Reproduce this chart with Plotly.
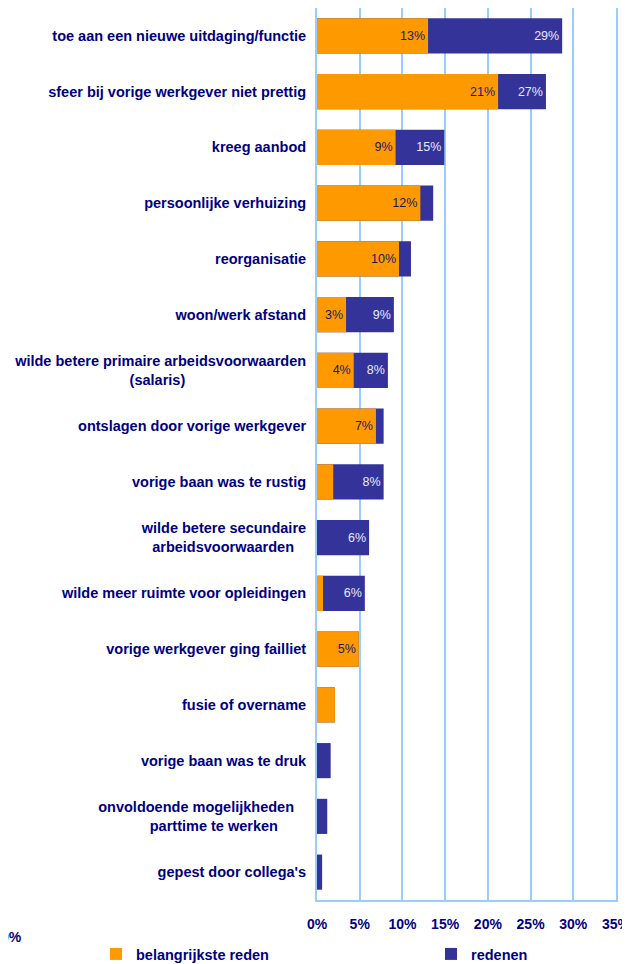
import plotly.graph_objects as go

NAVY_TXT = "#000080"
ORANGE = "#FF9900"
NAVY = "#333399"
GRID = "#99ccff"

NB = "\u00a0"
categories = [
    "toe aan een nieuwe uitdaging/functie",
    "sfeer bij vorige werkgever niet prettig",
    "kreeg aanbod",
    "persoonlijke verhuizing",
    "reorganisatie",
    "woon/werk afstand",
    "wilde betere primaire arbeidsvoorwaarden<br>(salaris)" + NB * 30,
    "ontslagen door vorige werkgever",
    "vorige baan was te rustig",
    "wilde betere secundaire<br>arbeidsvoorwaarden" + NB * 3,
    "wilde meer ruimte voor opleidingen",
    "vorige werkgever ging failliet",
    "fusie of overname",
    "vorige baan was te druk",
    "onvoldoende mogelijkheden" + NB * 3 + "<br>parttime te werken" + NB * 7,
    "gepest door collega's",
]

belangrijkste = [13.0, 21.2, 9.2, 12.1, 9.6, 3.4, 4.3, 6.9, 1.9, 0.0, 0.7, 4.9, 2.1, 0.0, 0.0, 0.0]
redenen = [28.7, 26.8, 14.9, 13.6, 11.0, 9.0, 8.3, 7.8, 7.8, 6.1, 5.6, 4.9, 2.1, 1.6, 1.2, 0.6]

belangrijkste_labels = ["13%", "21%", "9%", "12%", "10%", "3%", "4%", "7%", "", "", "", "5%", "", "", "", ""]
redenen_labels = ["29%", "27%", "15%", "", "", "9%", "8%", "", "8%", "6%", "6%", "", "", "", "", ""]

x_ticks = [0, 5, 10, 15, 20, 25, 30, 35]

ids = list(range(len(categories)))

BOLD = dict(family="Liberation Sans", size=14.5, color=NAVY_TXT, weight="bold")
BOLD_X = dict(family="Liberation Sans", size=14, color=NAVY_TXT, weight="bold")

# page body adds an 8px offset; plot area on screen: x 317..616, y 8..900
PLOT_L, PLOT_R, PLOT_T, PLOT_B = 317, 616, 8, 900
PW, PH = PLOT_R - PLOT_L, PLOT_B - PLOT_T


def px(x):
    return (x - PLOT_L) / PW


def py(y):
    return (PLOT_B - y) / PH


fig = go.Figure()
fig.add_trace(go.Bar(
    y=ids, x=redenen, orientation="h", name="redenen",
    marker=dict(color=NAVY, line=dict(width=0)),
    text=redenen_labels, textposition="inside", insidetextanchor="end",
    textfont=dict(family="Liberation Sans", size=12.5, color="#e8e8ff"),
    constraintext="none", width=0.63, legend="legend2",
))
fig.add_trace(go.Bar(
    y=ids, x=belangrijkste, orientation="h", name="belangrijkste reden",
    marker=dict(color=ORANGE, line=dict(width=0)),
    text=belangrijkste_labels, textposition="inside", insidetextanchor="end",
    textfont=dict(family="Liberation Sans", size=12.5, color="#1a1a66"),
    constraintext="none", width=0.63, legend="legend",
))

fig.update_layout(
    width=622, height=956,
    margin=dict(l=309, r=14, t=0, b=64, autoexpand=False),
    barmode="overlay",
    plot_bgcolor="white", paper_bgcolor="white",
    font=dict(family="Liberation Sans", color=NAVY_TXT),
    showlegend=True,
    legend=dict(
        orientation="h", x=px(96), xanchor="left", y=py(954), yanchor="middle",
        font=BOLD, bgcolor="rgba(0,0,0,0)",
    ),
    legend2=dict(
        orientation="h", x=px(431), xanchor="left", y=py(954), yanchor="middle",
        font=BOLD, bgcolor="rgba(0,0,0,0)",
    ),
    xaxis=dict(
        range=[0, 35], tickvals=x_ticks, ticktext=[f"{v}%" for v in x_ticks],
        showgrid=True, gridcolor=GRID, gridwidth=1.5,
        showline=True, linecolor=GRID, linewidth=2, mirror=True,
        zeroline=False, ticks="", ticklabelstandoff=10,
        ticklabeloverflow="allow",
        tickfont=BOLD_X,
    ),
    yaxis=dict(
        tickvals=ids, ticktext=categories, autorange="reversed",
        showline=True, linecolor=GRID, linewidth=2, mirror=True,
        showgrid=False, ticks="", ticklabelstandoff=6,
        tickfont=BOLD,
    ),
    annotations=[dict(
        text="0%", xref="paper", yref="paper", x=px(24), y=py(937),
        xanchor="right", yanchor="middle", showarrow=False,
        font=BOLD_X,
    )],
)

fig.write_html("out.html")
